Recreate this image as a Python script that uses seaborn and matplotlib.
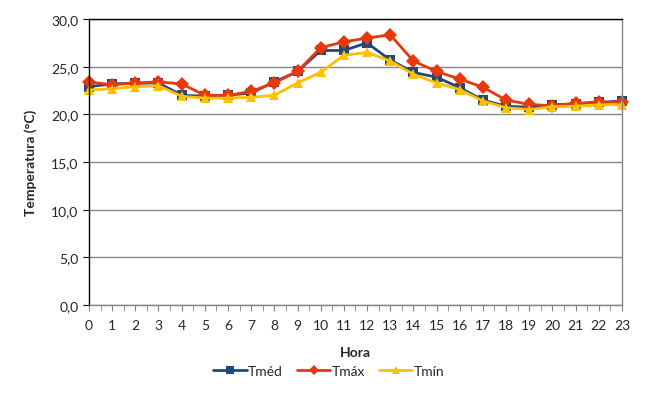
import matplotlib
matplotlib.use("Agg")
from matplotlib import pyplot as plt
from matplotlib.ticker import FuncFormatter, MultipleLocator
import seaborn as sns
import pandas as pd

horas = list(range(24))
tmed = [22.9, 23.2, 23.25, 23.3, 22.0, 21.9, 22.0, 22.25, 23.4, 24.5, 26.7, 26.7,
        27.5, 25.7, 24.4, 23.9, 22.8, 21.5, 20.85, 20.75, 21.0, 21.1, 21.25, 21.4]
tmax = [23.4, 23.1, 23.3, 23.4, 23.2, 22.0, 22.0, 22.4, 23.3, 24.5, 27.0, 27.6,
        28.0, 28.35, 25.6, 24.5, 23.7, 22.85, 21.5, 21.05, 20.9, 21.15, 21.3, 21.25]
tmin = [22.55, 22.7, 22.9, 23.0, 21.9, 21.7, 21.7, 21.8, 22.0, 23.3, 24.4, 26.2,
        26.5, 25.6, 24.2, 23.3, 22.6, 21.4, 20.7, 20.5, 20.8, 20.85, 21.0, 21.0]
series = ["Tméd", "Tmáx", "Tmín"]

df = pd.DataFrame({
    "Hora": horas * 3,
    "Temp": tmed + tmax + tmin,
    "Serie": [series[0]] * 24 + [series[1]] * 24 + [series[2]] * 24,
})

sns.set_style("white")
plt.rcParams['font.family'] = ['Lato', 'DejaVu Sans']

fig = plt.figure(figsize=(6.63, 4.02), dpi=100)
ax = fig.add_axes([0.1342, 0.2388, 0.8038, 0.7114])

cores = {"Tméd": "#1F497D", "Tmáx": "#E8380D", "Tmín": "#FFC000"}
marcas = {"Tméd": "s", "Tmáx": "D", "Tmín": "^"}
sns.lineplot(data=df, x="Hora", y="Temp", hue="Serie", style="Serie",
             palette=cores, markers=marcas, dashes=False, ax=ax,
             linewidth=2, markersize=7, markeredgewidth=0, clip_on=False)

ax.set_xlim(0, 23)
ax.set_ylim(0, 30)
ax.xaxis.set_major_locator(MultipleLocator(1))
ax.xaxis.set_minor_locator(MultipleLocator(0.5))
ax.yaxis.set_major_locator(MultipleLocator(5))
ax.yaxis.set_major_formatter(FuncFormatter(lambda v, p: f"{v:.1f}".replace(".", ",")))
ax.grid(axis="y", color="#868686", linewidth=1)
ax.set_axisbelow(True)

for s in ["left", "top"]:
    ax.spines[s].set_color("black")
for s in ["right", "bottom"]:
    ax.spines[s].set_color("#868686")
for s in ax.spines.values():
    s.set_linewidth(1)

ax.tick_params(axis="x", which="both", direction="out", length=4, color="#868686",
               labelsize=10, pad=6, bottom=True)
ax.tick_params(axis="y", which="both", direction="out", length=4, color="black",
               labelsize=10, left=True)
ax.set_xlabel("Hora", fontsize=10, fontweight="bold", labelpad=11)
ax.set_ylabel("Temperatura (°C)", fontsize=10, fontweight="bold", labelpad=10)

ax.legend(title=None, loc="upper center", bbox_to_anchor=(0.45, -0.165), ncol=3,
          frameon=False, fontsize=10, handlelength=2.4, handletextpad=0.1,
          columnspacing=1.0, markerscale=0.75)

fig.savefig("out.png", dpi=100)
